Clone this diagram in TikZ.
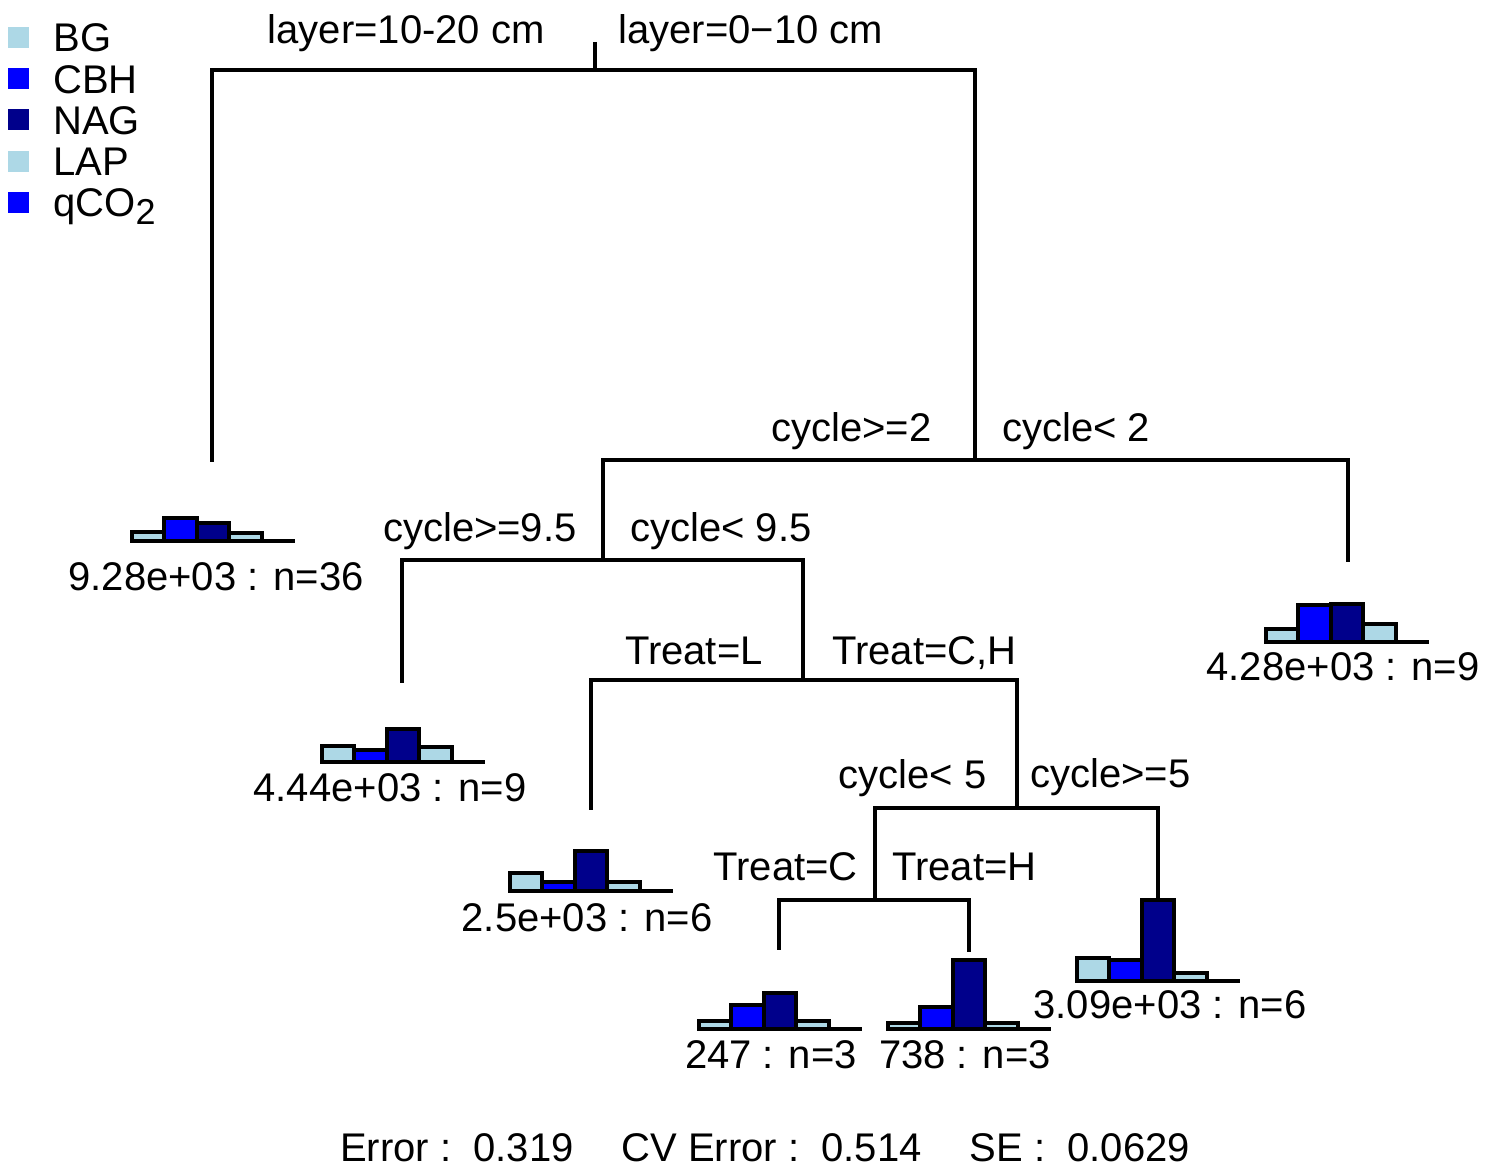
\documentclass[tikz,border=0pt]{standalone}
\usepackage{fontspec}
\setmainfont{Liberation Sans}
\usetikzlibrary{positioning, calc}
\definecolor{bgcol}{HTML}{ADD8E6}
\definecolor{cbhcol}{HTML}{0000FF}
\definecolor{nagcol}{HTML}{00008B}
\tikzset{branch/.style={line width=1.8pt}}
\tikzset{bar/.style={draw=black, line width=2pt}}
\tikzset{lbl/.style={font=\fontsize{20}{24}\selectfont, inner sep=0pt}}
\tikzset{key/.style={minimum size=10.5pt, inner sep=0pt}}
\newcommand{\lowtwo}{\raisebox{-4pt}{\fontsize{18}{18}\selectfont 2}}
\newcommand{\leafbars}[6]{%
  \draw[bar, fill=bgcol] ({#1-81.5},#2) rectangle ++(32.6,-#3);
  \draw[bar, fill=cbhcol] ({#1-48.9},#2) rectangle ++(32.6,-#4);
  \draw[bar, fill=nagcol] ({#1-16.3},#2) rectangle ++(32.6,-#5);
  \draw[bar, fill=bgcol] ({#1+16.3},#2) rectangle ++(32.6,-#6);
  \draw[bar] ({#1-81.5},#2) -- ({#1+81.5},#2);
}

\begin{document}
\begin{tikzpicture}[x=0.5pt, y=-0.5pt]
  \useasboundingbox (0,0) rectangle (1490,1170);

  \foreach \c/\t [count=\i] in {bgcol/BG, cbhcol/CBH, nagcol/NAG, bgcol/LAP, cbhcol/{qCO\lowtwo}}{
    \node[key, fill=\c] (k\i) at (18.5,{37.5+41.25*(\i-1)}) {};
    \node[lbl, anchor=base west] (e\i) at (53,{52+41.25*(\i-1)}) {\t};
  }

  \coordinate (top) at (595,42);
  \coordinate (root) at (595,70);
  \coordinate (n2) at (975,460);
  \coordinate (n4) at (603,560);
  \coordinate (n6) at (803,680);
  \coordinate (n7) at (1017,808);
  \coordinate (n8) at (875,900);
  \coordinate (l1) at (212,462);
  \coordinate (l2) at (1348,562);
  \coordinate (l3) at (402,683);
  \coordinate (l4) at (591,810);
  \coordinate (l5) at (779,950);
  \coordinate (l6) at (969,952);
  \coordinate (l7) at (1158,900);

  \draw[branch] (top) -- (root);
  \draw[branch] (l1) |- (root) -| (n2);
  \draw[branch] (n4) |- (n2) -| (l2);
  \draw[branch] (l3) |- (n4) -| (n6);
  \draw[branch] (l4) |- (n6) -| (n7);
  \draw[branch] (n8) |- (n7) -| (l7);
  \draw[branch] (l5) |- (n8) -| (l6);

  \node[lbl, anchor=base east] (s1l) at (545,44) {layer=10-20 cm};
  \node[lbl, anchor=base west] (s1r) at (618,44) {layer=0−10 cm};
  \node[lbl, anchor=base east] (s2l) at (932,442) {cycle>=2};
  \node[lbl, anchor=base west] (s2r) at (1002,442) {cycle< 2};
  \node[lbl, anchor=base east] (s4l) at (577,542) {cycle>=9.5};
  \node[lbl, anchor=base west] (s4r) at (630,542) {cycle< 9.5};
  \node[lbl, anchor=base east] (s6l) at (763,665) {Treat=L};
  \node[lbl, anchor=base west] (s6r) at (832,665) {Treat=C,H};
  \node[lbl, anchor=base east] (s7l) at (987,789) {cycle< 5};
  \node[lbl, anchor=base west] (s7r) at (1030,788) {cycle>=5};
  \node[lbl, anchor=base east] (s8l) at (858,881) {Treat=C};
  \node[lbl, anchor=base west] (s8r) at (892,881) {Treat=H};

  \leafbars{213}{541}{9}{23}{18}{8}
  \leafbars{1347}{642}{13}{37}{38}{18}
  \leafbars{403}{762}{16}{12}{33}{15}
  \leafbars{591}{891}{18}{9}{40}{9}
  \leafbars{780}{1029}{8}{24}{36}{8}
  \leafbars{969}{1029}{6}{22}{69}{6}
  \leafbars{1158}{981}{23}{21}{81}{8}

  \node[lbl] (t1) at (216,577) {9.28e+03 : n=36};
  \node[lbl] (t2) at (1343,667) {4.28e+03 : n=9};
  \node[lbl] (t3) at (390,788) {4.44e+03 : n=9};
  \node[lbl] (t4) at (587,918) {2.5e+03 : n=6};
  \node[lbl] (t5) at (771,1055) {247 : n=3};
  \node[lbl] (t6) at (965,1055) {738 : n=3};
  \node[lbl] (t7) at (1170,1005) {3.09e+03 : n=6};

  \node[lbl, anchor=base] (err) at (765,1161) {Error :\ \ 0.319\hspace{24pt}CV Error :\ \ 0.514\hspace{24pt}SE :\ \ 0.0629};
\end{tikzpicture}
\end{document}
